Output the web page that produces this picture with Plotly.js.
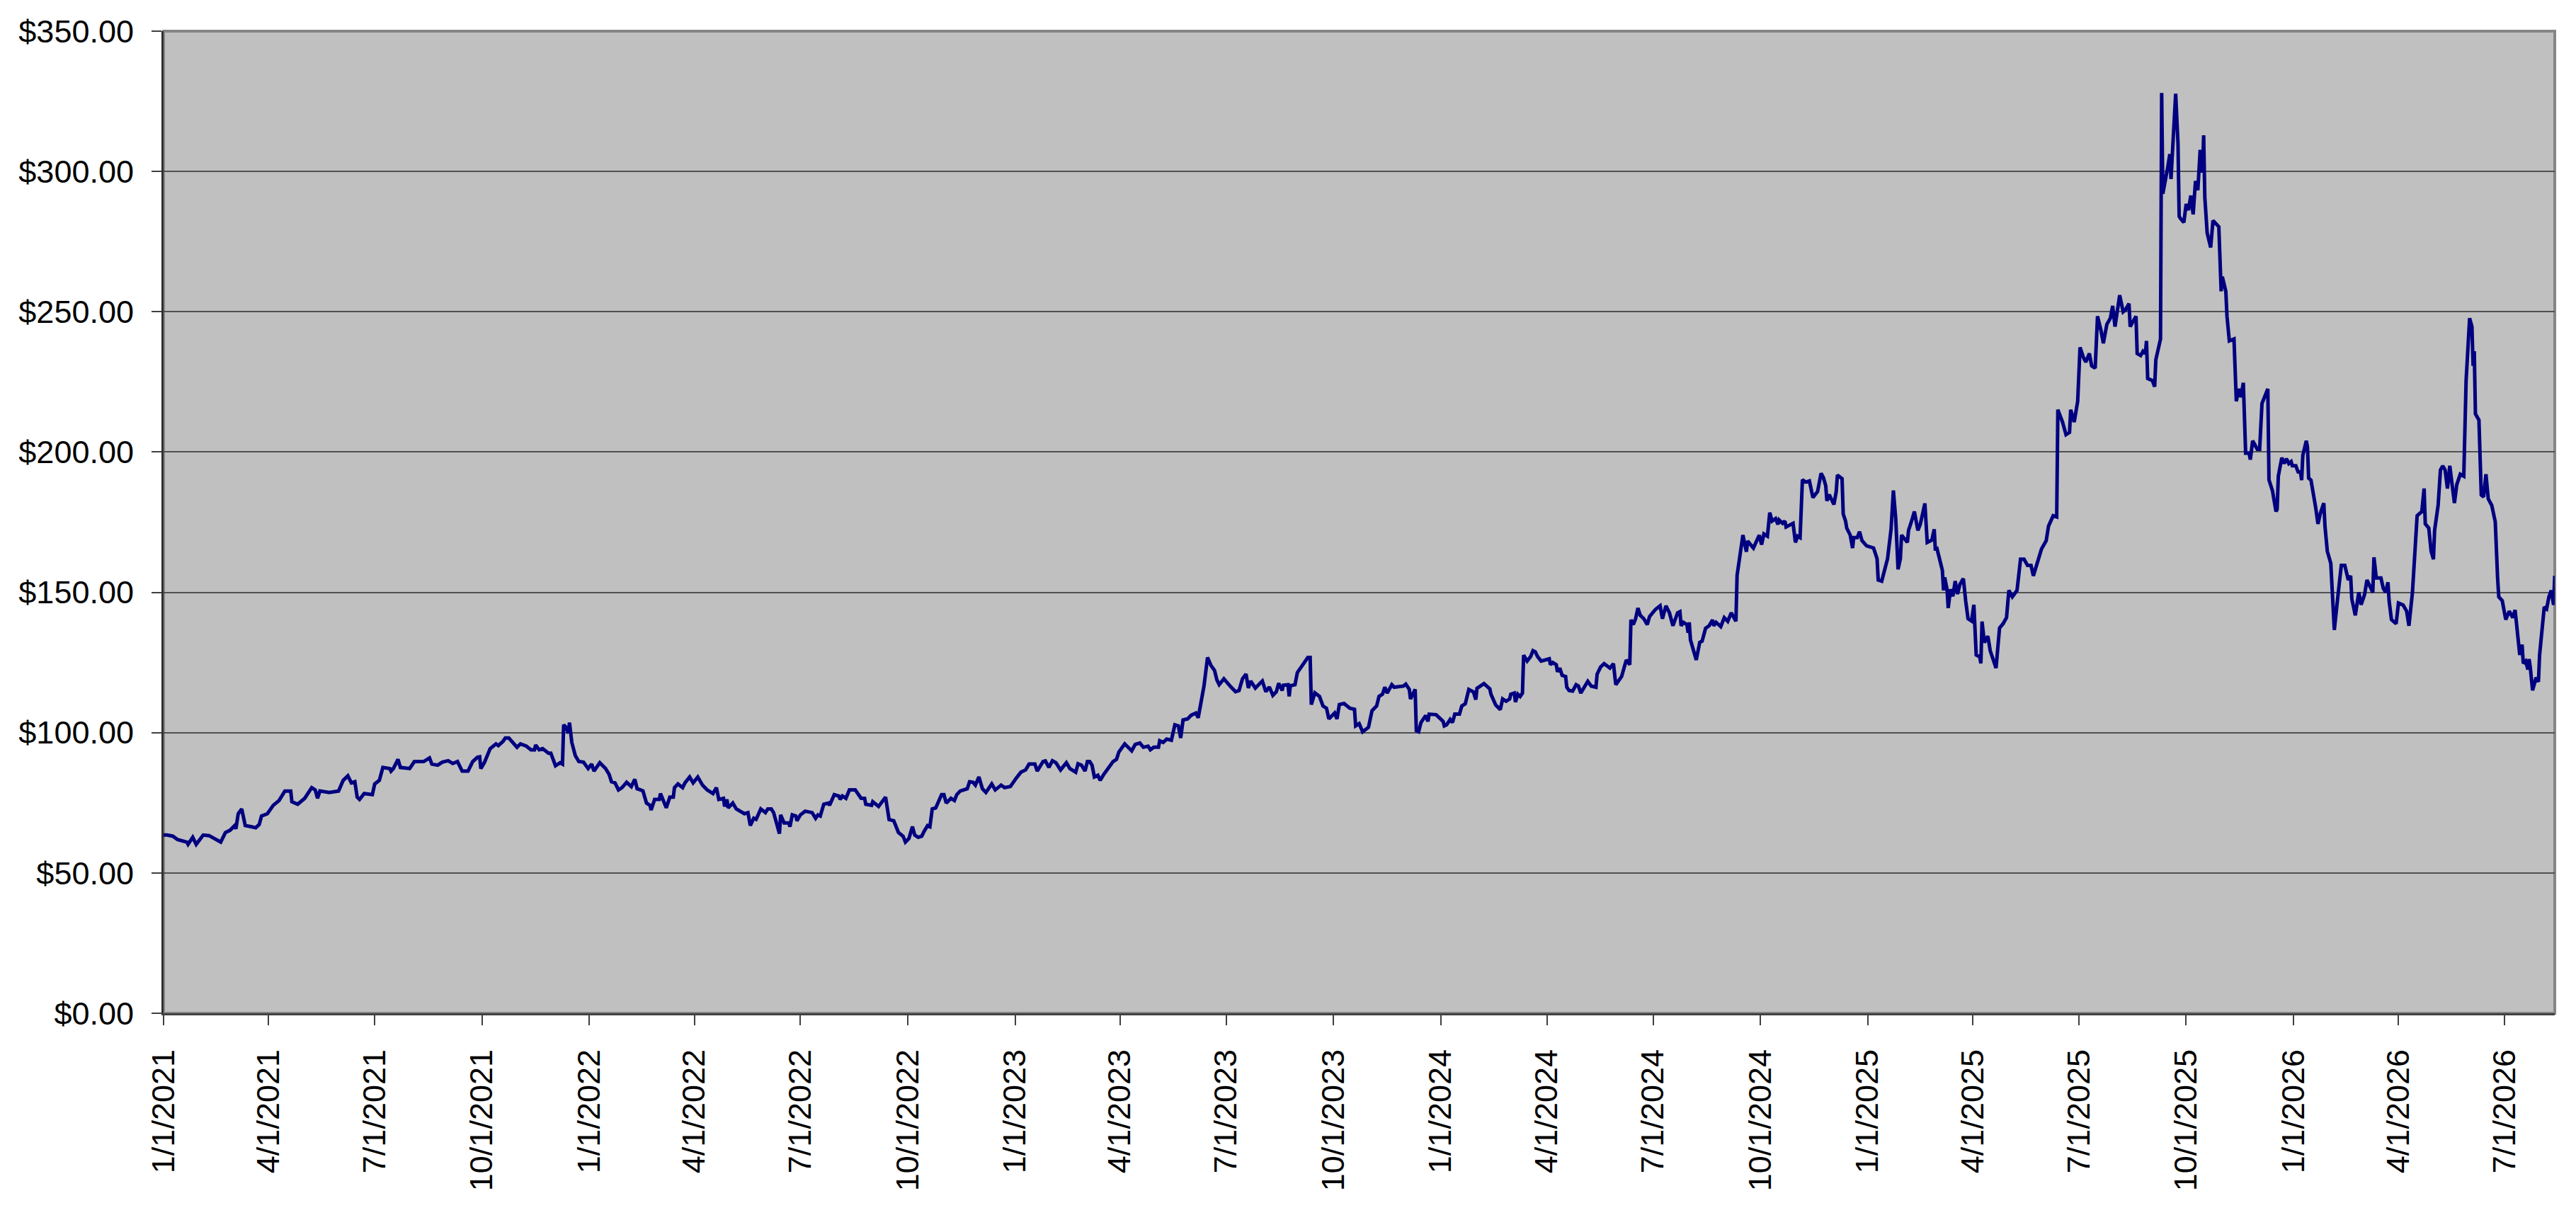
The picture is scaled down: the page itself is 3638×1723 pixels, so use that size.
<!DOCTYPE html>
<html>
<head>
<meta charset="utf-8">
<script src="https://cdn.plot.ly/plotly-3.0.1.min.js"></script>
<style>
  html, body { margin: 0; padding: 0; background: #ffffff; }
  #chart { width: 3638px; height: 1723px; }
</style>
</head>
<body>
<div id="chart"></div>
<script>
// closing prices, one pair of arrays per year (month-day, price)
const days2021 = ['01-01','01-04','01-09','01-13','01-21','01-22','01-26','01-29','02-04','02-09',
  '02-19','02-23','02-27','03-03','03-04','03-06','03-09','03-12','03-17','03-21',
  '03-24','03-26','03-31','04-05','04-10','04-15','04-20','04-21','04-26','05-02',
  '05-08','05-11','05-13','05-15','05-23','05-31','06-04','06-08','06-11','06-14',
  '06-16','06-18','06-22','06-29','07-01','07-05','07-08','07-14','07-15','07-17',
  '07-21','07-23','07-31','08-04','08-12','08-17','08-19','08-24','08-28','09-02',
  '09-06','09-10','09-14','09-19','09-23','09-27','09-29','09-30','10-03','10-05',
  '10-08','10-13','10-15','10-19','10-21','10-24','10-27','10-31','11-03','11-08',
  '11-12','11-15','11-16','11-19','11-22','11-25','11-27','11-29','12-01','12-03',
  '12-07','12-09','12-10','12-12','12-14','12-15','12-17','12-20','12-23','12-27',
  '12-31'];
const close2021 = [63.5,63.5,63.1,61.9,61.0,60.2,62.7,60.2,63.5,63.3,
  61.0,64.4,65.2,66.9,65.7,71.1,72.8,66.9,66.5,66.1,
  67.3,70.3,71.1,74.1,75.8,79.2,79.2,75.4,74.5,76.6,
  80.4,79.6,76.6,79.2,78.7,79.2,83.0,84.6,82.1,82.5,
  77.0,76.2,78.3,77.9,81.7,83.0,87.6,87.2,86.3,87.2,
  90.5,87.6,87.2,89.7,89.7,91.0,88.8,88.4,89.5,90.0,
  89.0,89.7,86.3,86.3,89.7,91.2,91.4,87.2,89.3,91.4,
  94.3,96.0,95.4,96.9,98.1,98.1,96.5,94.8,96.0,95.2,
  93.9,93.9,95.6,93.9,94.3,93.1,92.7,92.7,90.1,88.2,
  89.3,88.8,102.8,101.9,99.8,103.6,96.5,91.8,89.7,89.5,
  87.2];

const days2022 = ['01-03','01-05','01-10','01-15','01-18','01-20','01-23','01-26','01-29','02-02',
  '02-06','02-09','02-11','02-14','02-16','02-19','02-22','02-23','02-26','03-02',
  '03-03','03-08','03-11','03-14','03-15','03-18','03-22','03-24','03-28','03-31',
  '04-04','04-08','04-12','04-17','04-20','04-22','04-26','04-27','04-29','04-30',
  '05-04','05-07','05-11','05-14','05-17','05-19','05-22','05-24','05-28','06-01',
  '06-03','06-06','06-08','06-13','06-14','06-17','06-21','06-22','06-24','06-27',
  '06-28','07-01','07-05','07-11','07-14','07-16','07-18','07-21','07-25','07-26',
  '07-30','08-03','08-04','08-06','08-09','08-12','08-17','08-22','08-25','08-26',
  '08-31','09-01','09-06','09-10','09-12','09-15','09-19','09-23','09-27','09-29',
  '10-02','10-05','10-07','10-10','10-13','10-15','10-18','10-20','10-22','10-25',
  '10-28','10-30','11-01','11-03','11-07','11-10','11-12','11-15','11-21','11-23',
  '11-26','11-28','12-01','12-04','12-07','12-12','12-15','12-20','12-23','12-28'];
const close2022 = [88.8,86.3,89.3,87.2,85.1,82.5,82.1,79.6,80.4,82.3,
  80.8,83.4,80.0,79.6,79.2,74.9,74.1,72.4,76.2,76.2,
  78.3,73.2,77.0,77.0,80.4,81.7,80.4,82.1,84.2,82.1,
  84.2,81.3,79.6,78.3,80.4,76.2,76.6,73.7,76.2,73.2,
  74.9,72.8,72.0,71.1,71.5,66.9,69.5,69.1,72.8,71.5,
  72.8,72.8,71.5,64.0,70.7,67.8,67.8,66.5,70.7,70.3,
  68.6,70.7,72.0,71.5,69.5,70.7,70.3,74.5,74.9,74.1,
  77.9,77.4,76.2,77.4,76.6,79.6,79.6,76.6,76.6,74.5,
  74.1,75.4,73.7,76.2,77.0,69.0,68.6,64.4,63.1,61.0,
  62.3,66.5,63.5,62.7,63.1,64.8,66.9,66.5,72.8,73.2,
  75.8,77.9,77.9,74.9,76.6,75.8,77.9,79.2,80.0,82.5,
  82.3,81.3,84.2,80.0,78.7,81.7,79.6,81.3,80.4,80.8];

const days2023 = ['01-02','01-06','01-10','01-13','01-18','01-20','01-25','01-27','01-30','02-02',
  '02-05','02-09','02-14','02-17','02-22','02-24','02-27','03-02','03-04','03-06',
  '03-08','03-10','03-13','03-15','03-18','03-22','03-26','03-29','03-31','04-05',
  '04-11','04-14','04-18','04-21','04-25','04-27','04-30','05-04','05-05','05-08',
  '05-11','05-15','05-18','05-21','05-23','05-25','05-29','06-01','06-05','06-07',
  '06-12','06-15','06-18','06-21','06-23','06-25','06-29','07-05','07-09','07-12',
  '07-15','07-18','07-20','07-22','07-26','08-01','08-04','08-07','08-10','08-13',
  '08-15','08-18','08-19','08-23','08-24','08-25','08-29','08-31','09-04','09-07',
  '09-09','09-11','09-12','09-15','09-19','09-22','09-25','09-27','09-29','10-02',
  '10-04','10-06','10-10','10-15','10-19','10-20','10-23','10-26','10-31','11-03',
  '11-07','11-09','11-12','11-14','11-16','11-20','11-22','11-30','12-02','12-05',
  '12-06','12-10','12-11','12-13','12-15','12-19','12-21','12-22','12-28','12-31'];
const close2023 = [83.8,85.9,86.7,88.8,88.8,86.3,89.7,89.9,87.6,90.0,
  89.3,86.7,89.3,87.2,85.9,88.9,88.4,86.3,89.7,89.7,
  88.4,84.2,84.8,83.0,85.1,87.6,89.7,90.5,93.1,96.0,
  93.5,95.8,96.3,94.8,95.2,93.9,94.8,94.8,97.1,96.5,
  97.7,97.3,102.8,102.4,98.1,104.5,104.9,106.2,107.0,105.3,
  116.7,126.8,123.9,122.2,118.8,117.1,119.2,116.3,114.6,115.0,
  119.2,120.9,115.9,118.4,115.9,118.4,114.6,116.3,113.3,114.6,
  117.6,115.0,116.9,117.1,112.9,116.7,117.1,121.4,123.9,126.0,
  126.8,126.8,110.0,114.2,112.9,109.5,108.7,104.9,105.7,107.0,
  104.9,110.0,110.4,108.7,108.3,102.4,103.2,100.3,101.9,107.8,
  109.5,112.9,113.7,116.2,114.1,117.1,116.2,116.6,117.3,115.4,
  112.0,115.4,100.7,100.3,103.6,106.1,104.0,106.6,106.4,105.0];

const days2024 = ['01-03','01-04','01-06','01-09','01-11','01-13','01-17','01-19','01-22','01-25',
  '01-29','01-31','02-01','02-07','02-09','02-12','02-13','02-17','02-21','02-23',
  '02-26','02-29','03-01','03-04','03-05','03-07','03-09','03-11','03-12','03-15',
  '03-18','03-20','03-22','03-24','03-27','03-31','04-03','04-04','04-06','04-09',
  '04-10','04-12','04-14','04-17','04-18','04-20','04-23','04-26','04-28','04-30',
  '05-06','05-09','05-13','05-14','05-17','05-20','05-23','05-25','05-28','05-30',
  '06-04','06-06','06-08','06-11','06-12','06-14','06-16','06-18','06-20','06-23',
  '06-26','06-28','07-03','07-07','07-09','07-12','07-15','07-18','07-22','07-24',
  '07-25','07-27','07-30','07-31','08-01','08-02','08-05','08-07','08-10','08-12',
  '08-15','08-18','08-21','08-22','08-24','08-28','08-31','09-03','09-06','09-10',
  '09-11','09-13','09-15','09-16','09-19','09-20','09-25','09-27','09-30','10-02',
  '10-04','10-07','10-09','10-11','10-14','10-16','10-17','10-20','10-22','10-23',
  '10-26','10-29','10-31','11-02','11-04','11-06','11-09','11-12','11-15','11-19',
  '11-22','11-24','11-26','11-27','11-29','12-03','12-05','12-06','12-10','12-11',
  '12-13','12-14','12-17','12-19','12-20','12-23','12-25','12-27','12-31'];
const close2024 = [104.0,102.4,102.8,104.7,103.6,106.6,106.6,109.5,110.3,115.4,
  114.5,111.8,115.8,117.5,116.6,115.6,113.7,109.9,108.2,112.0,
  111.2,112.0,113.7,114.1,110.9,113.7,112.9,114.1,127.6,125.5,
  127.1,129.2,128.8,127.1,125.5,125.9,126.3,124.2,125.0,124.2,
  121.7,123.0,120.4,120.0,116.2,115.0,114.8,117.1,116.6,114.1,
  118.3,116.6,116.2,120.8,123.4,124.6,123.4,123.0,124.6,117.1,
  120.0,123.4,125.9,124.2,140.2,138.5,140.6,144.4,141.8,140.6,
  138.5,141.4,143.9,145.2,140.6,145.2,142.7,138.1,142.7,143.1,
  138.1,139.3,138.5,135.6,139.3,133.1,128.5,125.9,132.2,132.6,
  137.2,138.1,140.2,138.1,139.3,137.8,141.0,139.7,142.7,139.7,
  156.1,161.6,167.0,170.4,164.5,168.3,165.8,167.8,170.4,167.0,
  170.8,170.0,178.4,175.4,176.3,174.2,175.8,174.6,175.4,173.3,
  173.8,174.6,167.8,170.0,169.5,190.1,189.3,189.7,183.8,185.9,
  192.4,190.9,188.0,182.6,184.8,181.3,185.9,191.8,190.5,177.9,
  175.4,172.9,170.4,165.8,169.5,169.5,171.6,168.5,166.6];

const days2025 = ['01-03','01-06','01-09','01-10','01-13','01-16','01-18','01-21','01-23','01-25',
  '01-27','01-29','01-30','02-04','02-05','02-07','02-10','02-13','02-15','02-19',
  '02-21','02-25','02-27','02-28','03-01','03-04','03-06','03-07','03-08','03-10',
  '03-11','03-13','03-15','03-17','03-19','03-21','03-24','03-26','03-28','03-31',
  '04-02','04-04','04-07','04-08','04-09','04-11','04-14','04-16','04-18','04-21',
  '04-24','04-27','04-30','05-02','05-05','05-09','05-12','05-15','05-18','05-21',
  '05-23','05-28','05-30','06-03','06-05','06-09','06-12','06-13','06-17','06-20',
  '06-23','06-24','06-27','06-30','07-02','07-05','07-07','07-10','07-12','07-15',
  '07-17','07-20','07-22','07-25','07-28','07-30','08-01','08-05','08-08','08-10',
  '08-13','08-14','08-19','08-20','08-23','08-25','08-27','08-28','08-29','09-02',
  '09-04','09-05','09-09','09-10','09-11','09-15','09-17','09-18','09-20','09-22',
  '09-24','09-25','09-26','09-29','10-01','10-03','10-05','10-07','10-09','10-11',
  '10-13','10-15','10-16','10-17','10-19','10-22','10-24','10-29','10-31','11-01',
  '11-04','11-05','11-07','11-11','11-13','11-15','11-17','11-19','11-21','11-24',
  '11-25','11-27','12-01','12-03','12-05','12-10','12-11','12-14','12-17','12-18',
  '12-19','12-22','12-24','12-26','12-28','12-30','12-31'];
const close2025 = [166.2,165.8,162.0,154.4,154.0,159.5,162.0,172.5,186.3,176.3,
  158.2,162.0,170.4,167.8,172.1,174.6,178.8,172.1,174.2,181.7,
  167.8,168.6,172.5,164.9,166.2,161.2,157.8,150.7,155.3,151.1,
  144.4,151.1,148.6,154.0,149.4,152.8,154.9,146.9,140.6,139.8,
  145.6,127.7,127.0,124.7,139.6,132.1,134.4,129.2,127.0,123.0,
  137.3,138.8,141.0,150.7,148.4,150.7,161.8,161.8,159.6,159.6,
  155.9,163.3,165.5,168.4,173.6,177.3,176.9,215.1,210.7,206.2,
  207.0,215.1,210.7,218.1,237.3,233.6,232.1,235.1,230.7,229.9,
  248.4,243.3,238.8,245.5,247.7,252.1,244.7,255.9,250.0,250.7,
  252.9,244.7,248.4,235.1,234.4,235.9,235.1,239.6,226.2,225.5,
  223.3,232.9,240.3,328.0,292.1,301.0,306.2,297.3,315.9,327.7,
  309.9,284.0,283.3,281.8,288.4,286.2,291.4,284.7,296.6,293.3,
  307.7,299.6,312.9,290.7,278.1,272.9,282.5,280.3,257.3,262.5,
  257.3,248.4,239.6,240.3,218.1,222.5,219.6,224.7,199.6,199.6,
  197.3,204.0,201.0,201.0,217.3,222.5,190.1,186.2,178.8,179.6,
  191.4,198.0,195.9,197.6,195.9,196.6,195.1];

const days2026 = ['01-03','01-05','01-07','01-08','01-09','01-12','01-13','01-14','01-16','01-20',
  '01-22','01-24','01-27','01-28','01-30','02-02','02-05','02-08','02-11','02-14',
  '02-17','02-19','02-20','02-23','02-26','02-28','03-03','03-05','03-08','03-10',
  '03-11','03-13','03-17','03-19','03-21','03-23','03-24','03-26','03-30','04-01',
  '04-05','04-08','04-10','04-13','04-17','04-21','04-23','04-24','04-27','04-29',
  '05-01','05-02','05-05','05-07','05-09','05-11','05-13','05-15','05-17','05-19',
  '05-21','05-24','05-27','05-29','06-01','06-03','06-04','06-05','06-06','06-09',
  '06-11','06-13','06-15','06-17','06-20','06-23','06-25','06-26','06-29','07-02',
  '07-05','07-08','07-10','07-14','07-16','07-17','07-19','07-21','07-22','07-23',
  '07-25','07-28','07-30','07-31','08-04','08-06','08-08','08-10','08-12','08-13'];
const close2026 = [195.1,192.9,192.9,190.0,198.8,204.0,201.8,190.7,190.0,180.3,
  174.4,178.1,181.8,173.6,164.7,160.3,136.6,148.4,159.6,159.6,
  154.4,155.9,147.7,141.8,150.0,145.6,149.3,154.4,152.1,150.0,
  162.5,155.1,155.1,151.4,150.0,153.6,146.9,140.3,138.8,146.2,
  145.5,143.3,138.1,150.0,177.3,178.8,187.0,174.4,172.9,164.7,
  161.8,172.1,181.0,193.6,195.1,193.6,187.0,195.1,188.4,181.8,
  188.4,192.1,191.4,225.5,247.7,244.7,230.7,235.9,213.6,211.4,
  184.7,184.0,192.1,183.3,181.0,175.1,155.1,148.4,147.0,140.3,
  143.3,141.0,143.7,127.7,131.4,124.7,125.5,122.5,126.2,123.3,
  115.1,119.6,118.1,127.7,144.8,144.1,148.4,150.7,145.5,155.9];

// axis ticks
const tickDates = ['2021-01-01','2021-04-01','2021-07-01','2021-10-01',
  '2022-01-01','2022-04-01','2022-07-01','2022-10-01',
  '2023-01-01','2023-04-01','2023-07-01','2023-10-01',
  '2024-01-01','2024-04-01','2024-07-01','2024-10-01',
  '2025-01-01','2025-04-01','2025-07-01','2025-10-01',
  '2026-01-01','2026-04-01','2026-07-01'];
const tickLabels = ['1/1/2021','4/1/2021','7/1/2021','10/1/2021',
  '1/1/2022','4/1/2022','7/1/2022','10/1/2022',
  '1/1/2023','4/1/2023','7/1/2023','10/1/2023',
  '1/1/2024','4/1/2024','7/1/2024','10/1/2024',
  '1/1/2025','4/1/2025','7/1/2025','10/1/2025',
  '1/1/2026','4/1/2026','7/1/2026'];
const priceTicks = [0, 50, 100, 150, 200, 250, 300, 350];
const priceLabels = ['$0.00','$50.00','$100.00','$150.00','$200.00','$250.00','$300.00','$350.00'];

const years = [
    ['2021', days2021, close2021],
    ['2022', days2022, close2022],
    ['2023', days2023, close2023],
    ['2024', days2024, close2024],
    ['2025', days2025, close2025],
    ['2026', days2026, close2026]
];

let xDates = [];
let yClose = [];
for (const yr of years) {
    for (let i = 0; i < yr[1].length; i++) {
        xDates.push(yr[0] + '-' + yr[1][i]);
        yClose.push(yr[2][i]);
    }
}

const tickFont = { family: 'Liberation Sans, Arial, sans-serif', size: 45, color: '#000000' };

var trace = {
    x: xDates,
    y: yClose,
    type: 'scatter',
    mode: 'lines',
    line: { color: '#000080', width: 5 },
    hoverinfo: 'skip'
};

var layout = {
    width: 3638,
    height: 1723,
    margin: { l: 231, r: 30, t: 44, b: 292, pad: 0 },
    paper_bgcolor: '#ffffff',
    plot_bgcolor: '#c0c0c0',
    showlegend: false,
    xaxis: {
        type: 'date',
        range: ['2021-01-01', '2026-08-13'],
        tickmode: 'array',
        tickvals: tickDates,
        ticktext: tickLabels,
        tickangle: -90,
        tickfont: tickFont,
        ticks: 'outside',
        ticklen: 14,
        tickwidth: 2,
        tickcolor: '#404040',
        ticklabelstandoff: 16,
        showgrid: false,
        zeroline: false,
        showline: true,
        linecolor: '#404040',
        linewidth: 3
    },
    yaxis: {
        range: [0, 350],
        tickmode: 'array',
        tickvals: priceTicks,
        ticktext: priceLabels,
        tickfont: tickFont,
        ticks: 'outside',
        ticklen: 14,
        tickwidth: 2,
        tickcolor: '#404040',
        ticklabelstandoff: 16,
        showgrid: true,
        gridcolor: '#505050',
        gridwidth: 2,
        zeroline: false,
        showline: true,
        linecolor: '#303030',
        linewidth: 3
    },
    shapes: [
        {
            // grey border round the plot area
            type: 'rect', xref: 'paper', yref: 'paper',
            x0: 0, x1: 1, y0: 0, y1: 1,
            line: { color: '#858585', width: 4 },
            fillcolor: 'rgba(0,0,0,0)',
            layer: 'below'
        }
    ]
};

var config = { displayModeBar: false, staticPlot: true };

Plotly.newPlot('chart', [trace], layout, config);
</script>
</body>
</html>
